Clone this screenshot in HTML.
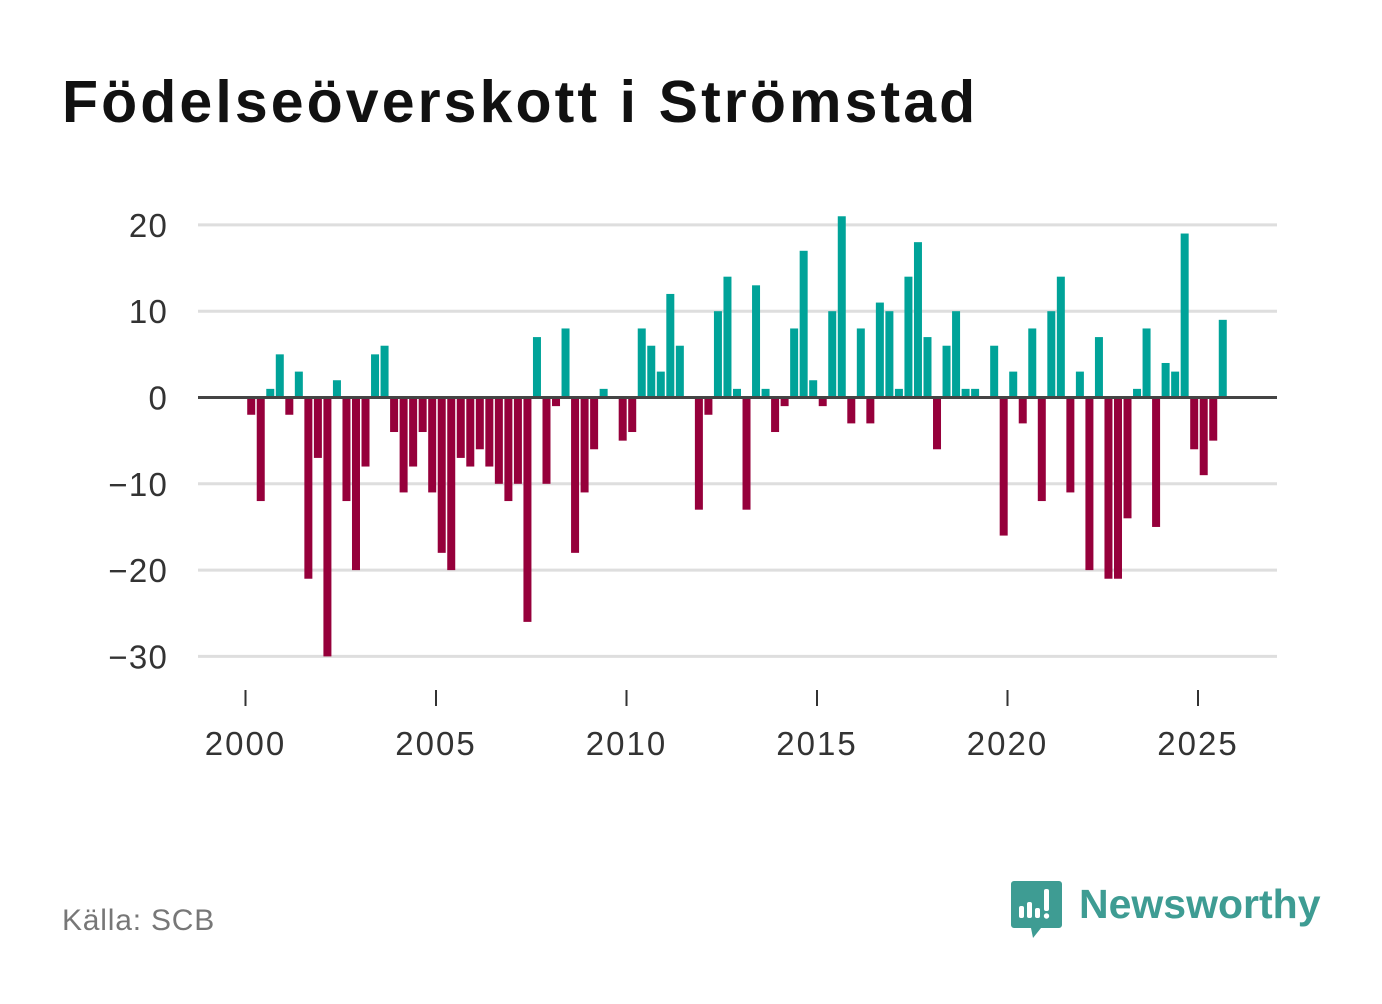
<!DOCTYPE html>
<html><head><meta charset="utf-8"><style>
body{margin:0;background:#fff;width:1382px;height:999px;overflow:hidden;font-family:"Liberation Sans",sans-serif}
</style></head><body>
<svg id="chart" width="1382" height="999" xmlns="http://www.w3.org/2000/svg">
<text x="62" y="122" font-size="59" font-weight="bold" letter-spacing="3.1" fill="#111" font-family="Liberation Sans, sans-serif">Födelseöverskott i Strömstad</text>
<g id="grid"></g>
<g id="bars"></g>
<g id="axes"></g>
<text x="62" y="930" font-size="30" letter-spacing="0.8" fill="#777">Källa: SCB</text>
<g>
<path d="M1014 881 h45 a3 3 0 0 1 3 3 v41 a3 3 0 0 1 -3 3 h-18 l-8 10 l-2 -10 h-17 a3 3 0 0 1 -3 -3 v-41 a3 3 0 0 1 3 -3z" fill="#3e9c93"/>
<rect x="1019" y="906" width="5" height="12" rx="2" fill="#fff"/>
<rect x="1027" y="902" width="5" height="16" rx="2" fill="#fff"/>
<rect x="1035" y="908" width="5" height="10" rx="2" fill="#fff"/>
<rect x="1044" y="889" width="5" height="22" rx="2" fill="#fff"/>
<circle cx="1046.5" cy="916" r="2.7" fill="#fff"/>
<text x="1079" y="918" font-size="41" font-weight="bold" fill="#3e9c93">Newsworthy</text>
</g>
</svg>
<script>
const values = [-2,-12,1,5,-2,3,-21,-7,-30,2,-12,-20,-8,5,6,-4,-11,-8,-4,-11,-18,-20,-7,-8,-6,-8,-10,-12,-10,-26,7,-10,-1,8,-18,-11,-6,1,0,-5,-4,8,6,3,12,6,0,-13,-2,10,14,1,-13,13,1,-4,-1,8,17,2,-1,10,21,-3,8,-3,11,10,1,14,18,7,-6,6,10,1,1,0,6,-16,3,-3,8,-12,10,14,-11,3,-20,7,-21,-21,-14,1,8,-15,4,3,19,-6,-9,-5,9];
const startYear = 2000;
const yTicks = [20,10,0,-10,-20,-30];
const xTicks = [2000,2005,2010,2015,2020,2025];
const NS="http://www.w3.org/2000/svg";
const y = v => 397.5 - v*8.63;
const x = yr => 245.5 + (yr-2000)*38.1;
function mk(tag, attrs, parent){const e=document.createElementNS(NS,tag);for(const k in attrs)e.setAttribute(k,attrs[k]);parent.appendChild(e);return e;}
const grid=document.getElementById('grid'), bars=document.getElementById('bars'), axes=document.getElementById('axes');
yTicks.forEach(t=>{
  if(t!==0){const l=mk('line',{x1:198,x2:1277,y1:y(t),y2:y(t),stroke:'#dedede','stroke-width':3},grid);
  
  }
  const tx=mk('text',{x:168,y:y(t)+12,'text-anchor':'end','font-size':33,'letter-spacing':1.2,fill:'#333'},axes);
  tx.textContent=(t<0?'\u2212'+(-t):String(t));
  
  
});
values.forEach((v,i)=>{
  const cx=x(startYear+i*0.25+0.15);
  const r=mk('rect',{x:cx-4,width:8,y:v>=0?y(v):y(0),height:Math.abs(y(v)-y(0)),fill:v>=0?'#00a399':'#96003b'},bars);
  
  
});
const z=mk('line',{x1:198,x2:1277,y1:y(0),y2:y(0),stroke:'#444','stroke-width':3},axes);


xTicks.forEach(t=>{
  const l=mk('line',{x1:x(t),x2:x(t),y1:690,y2:706,stroke:'#333','stroke-width':2},axes);
  
  
  const tx=mk('text',{x:x(t),y:755,'text-anchor':'middle','font-size':33,'letter-spacing':2,fill:'#333'},axes);
  tx.textContent=String(t);
  
  
});
</script>
</body></html>
